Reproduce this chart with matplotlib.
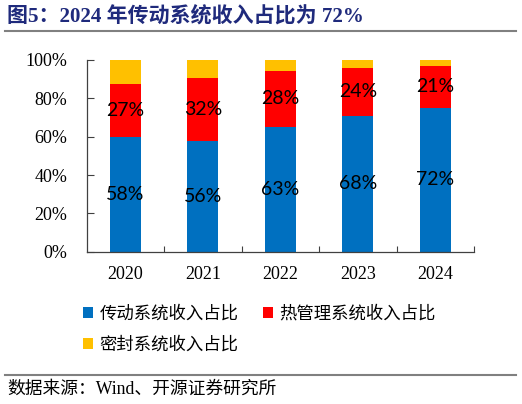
import matplotlib
matplotlib.use("Agg")
import matplotlib.pyplot as plt
from matplotlib.patches import Patch
from matplotlib.lines import Line2D
from matplotlib.ticker import FixedLocator, FuncFormatter
import numpy as np

# ---- data ----
years = ["2020", "2021", "2022", "2023", "2024"]
transmission = [58, 56, 63, 68, 72]      # 传动系统收入占比
thermal = [27, 32, 28, 24, 21]           # 热管理系统收入占比
sealing = [12, 9, 5.5, 4, 3]             # 密封系统收入占比
series_names = ["传动系统收入占比", "热管理系统收入占比", "密封系统收入占比"]
colors = ["#0070C0", "#FF0000", "#FFC000"]
yticks = [0, 20, 40, 60, 80, 100]

W, H = 522, 404
fig = plt.figure(figsize=(W / 100, H / 100), dpi=100)
ax = fig.add_axes([86.7 / W, 1 - 251.7 / H, (474 - 86.7) / W, (251.7 - 60) / H])

data = np.array([transmission, thermal, sealing], dtype=float)
totals = data.sum(axis=0)
shares = data / totals * 100
x = np.arange(len(years))
bottom = np.zeros(len(years))
for i in range(3):
    ax.bar(x, shares[i], width=0.4, bottom=bottom, color=colors[i], zorder=2)
    if i < 2:
        for xi, b, h, v in zip(x, bottom, shares[i], data[i]):
            ax.text(xi, b + h / 2, f"{int(v)}%", ha="center", va="center",
                    fontsize=14, family=["Lato", "DejaVu Sans"], color="black", zorder=3)
    bottom += shares[i]

ax.set_xlim(-0.5, len(years) - 0.5)
ax.set_ylim(0, 100)
ax.set_xticks(x)
ax.set_xticklabels(years, family="Liberation Serif", fontsize=13)
ax.xaxis.set_minor_locator(FixedLocator(np.arange(0.5, len(years), 1.0)))
ax.tick_params(axis="x", which="major", length=0, pad=10)
ax.tick_params(axis="x", which="minor", length=4, direction="in", width=0.8, color="#404040")
ax.set_yticks(yticks)
ax.yaxis.set_major_formatter(FuncFormatter(lambda v, p: f"{int(v)}%"))
for lab in ax.get_yticklabels():
    lab.set_family("Liberation Serif")
    lab.set_fontsize(13)
ax.tick_params(axis="y", length=5, direction="in", width=0.8, color="#404040", pad=14)
for s in ["top", "right"]:
    ax.spines[s].set_visible(False)
for s in ["left", "bottom"]:
    ax.spines[s].set_color("#404040")
    ax.spines[s].set_linewidth(0.9)

# title
fig.text(7 / W, 1 - 17 / H, "图5：2024 年传动系统收入占比为 72%", ha="left", va="center",
         fontsize=15.1, fontweight="bold", color="#1F2A7C",
         family=["Liberation Serif", "Noto Sans CJK SC"])
fig.add_artist(Line2D([5 / W, 516 / W], [1 - 31 / H, 1 - 31 / H], color="#808080", lw=1.5))

# legend (row order: 传动, 热管理 / 密封)
order = [0, 2, 1]
handles = [Patch(facecolor=colors[i], edgecolor="none") for i in order]
labels = [series_names[i] for i in order]
leg = fig.legend(handles, labels, loc="upper left",
                 bbox_to_anchor=(76 / W, 1 - 298 / H), ncol=2, frameon=False,
                 prop={"family": ["Noto Sans CJK SC"], "size": 12.5},
                 handlelength=0.6, handleheight=0.6, handletextpad=0.35,
                 columnspacing=1.4, labelspacing=0.75, borderaxespad=0)

# footer
fig.add_artist(Line2D([5 / W, 516 / W], [1 - 375 / H, 1 - 375 / H], color="#808080", lw=1.5))
fig.text(7 / W, 1 - 389 / H, "数据来源：Wind、开源证券研究所", ha="left", va="center",
         fontsize=12.8, color="black", family=["Liberation Serif", "Noto Sans CJK SC"])

fig.savefig("out.png", dpi=100)
